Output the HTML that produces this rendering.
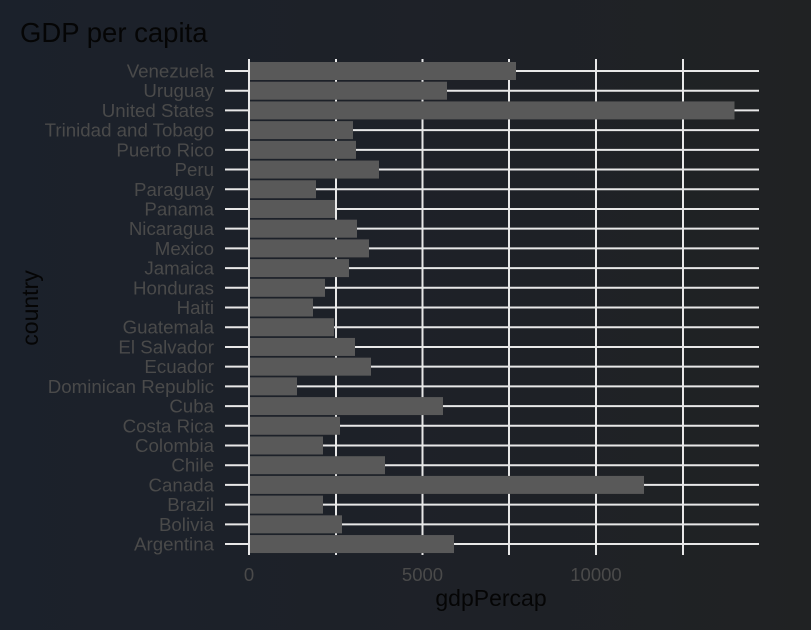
<!DOCTYPE html>
<html><head><meta charset="utf-8"><style>
html,body{margin:0;padding:0}
body{width:811px;height:625px;background:linear-gradient(90deg,#1b212b,#1e2127 60%,#202223);overflow:hidden}
</style></head><body>
<svg width="811" height="625" xmlns="http://www.w3.org/2000/svg" font-family="Liberation Sans, sans-serif">
<defs>
<g id="gl"><line x1="225" y1="0" x2="759" y2="0" stroke="#e8e8e8" stroke-width="2"/></g>
</defs>
<text x="20" y="42" font-size="27.5" fill="#050505">GDP per capita</text>
<g stroke="#e8e8e8" stroke-width="2">
<line x1="249" y1="59" x2="249" y2="555"/>
<line x1="336" y1="59" x2="336" y2="555"/>
<line x1="422.5" y1="59" x2="422.5" y2="555"/>
<line x1="509" y1="59" x2="509" y2="555"/>
<line x1="596" y1="59" x2="596" y2="555"/>
<line x1="683" y1="59" x2="683" y2="555"/>
</g>
<g font-size="18.7" fill="#4a4a4a" text-anchor="end">
<g transform="translate(0,71)"><use href="#gl"/><rect x="250" y="-9" width="266" height="18" fill="#595959"/><text x="214" y="6.5">Venezuela</text></g>
<g transform="translate(0,90.71)"><use href="#gl"/><rect x="250" y="-9" width="197" height="18" fill="#595959"/><text x="214" y="6.5">Uruguay</text></g>
<g transform="translate(0,110.42)"><use href="#gl"/><rect x="250" y="-9" width="484.5" height="18" fill="#595959"/><text x="214" y="6.5">United States</text></g>
<g transform="translate(0,130.13)"><use href="#gl"/><rect x="250" y="-9" width="103" height="18" fill="#595959"/><text x="214" y="6.5">Trinidad and Tobago</text></g>
<g transform="translate(0,149.84)"><use href="#gl"/><rect x="250" y="-9" width="106" height="18" fill="#595959"/><text x="214" y="6.5">Puerto Rico</text></g>
<g transform="translate(0,169.55)"><use href="#gl"/><rect x="250" y="-9" width="129" height="18" fill="#595959"/><text x="214" y="6.5">Peru</text></g>
<g transform="translate(0,189.26)"><use href="#gl"/><rect x="250" y="-9" width="66" height="18" fill="#595959"/><text x="214" y="6.5">Paraguay</text></g>
<g transform="translate(0,208.97)"><use href="#gl"/><rect x="250" y="-9" width="85" height="18" fill="#595959"/><text x="214" y="6.5">Panama</text></g>
<g transform="translate(0,228.68)"><use href="#gl"/><rect x="250" y="-9" width="107" height="18" fill="#595959"/><text x="214" y="6.5">Nicaragua</text></g>
<g transform="translate(0,248.39)"><use href="#gl"/><rect x="250" y="-9" width="119" height="18" fill="#595959"/><text x="214" y="6.5">Mexico</text></g>
<g transform="translate(0,268.1)"><use href="#gl"/><rect x="250" y="-9" width="99" height="18" fill="#595959"/><text x="214" y="6.5">Jamaica</text></g>
<g transform="translate(0,287.81)"><use href="#gl"/><rect x="250" y="-9" width="75" height="18" fill="#595959"/><text x="214" y="6.5">Honduras</text></g>
<g transform="translate(0,307.52)"><use href="#gl"/><rect x="250" y="-9" width="63" height="18" fill="#595959"/><text x="214" y="6.5">Haiti</text></g>
<g transform="translate(0,327.23)"><use href="#gl"/><rect x="250" y="-9" width="84" height="18" fill="#595959"/><text x="214" y="6.5">Guatemala</text></g>
<g transform="translate(0,346.94)"><use href="#gl"/><rect x="250" y="-9" width="105" height="18" fill="#595959"/><text x="214" y="6.5">El Salvador</text></g>
<g transform="translate(0,366.65)"><use href="#gl"/><rect x="250" y="-9" width="121" height="18" fill="#595959"/><text x="214" y="6.5">Ecuador</text></g>
<g transform="translate(0,386.36)"><use href="#gl"/><rect x="250" y="-9" width="47" height="18" fill="#595959"/><text x="214" y="6.5">Dominican Republic</text></g>
<g transform="translate(0,406.07)"><use href="#gl"/><rect x="250" y="-9" width="193" height="18" fill="#595959"/><text x="214" y="6.5">Cuba</text></g>
<g transform="translate(0,425.78)"><use href="#gl"/><rect x="250" y="-9" width="90" height="18" fill="#595959"/><text x="214" y="6.5">Costa Rica</text></g>
<g transform="translate(0,445.49)"><use href="#gl"/><rect x="250" y="-9" width="73" height="18" fill="#595959"/><text x="214" y="6.5">Colombia</text></g>
<g transform="translate(0,465.2)"><use href="#gl"/><rect x="250" y="-9" width="135" height="18" fill="#595959"/><text x="214" y="6.5">Chile</text></g>
<g transform="translate(0,484.91)"><use href="#gl"/><rect x="250" y="-9" width="394" height="18" fill="#595959"/><text x="214" y="6.5">Canada</text></g>
<g transform="translate(0,504.62)"><use href="#gl"/><rect x="250" y="-9" width="73" height="18" fill="#595959"/><text x="214" y="6.5">Brazil</text></g>
<g transform="translate(0,524.33)"><use href="#gl"/><rect x="250" y="-9" width="92" height="18" fill="#595959"/><text x="214" y="6.5">Bolivia</text></g>
<g transform="translate(0,544.04)"><use href="#gl"/><rect x="250" y="-9" width="204" height="18" fill="#595959"/><text x="214" y="6.5">Argentina</text></g>
</g>
<g font-size="18.5" fill="#4a4a4a" text-anchor="middle">
<text x="249" y="581">0</text>
<text x="422.5" y="581">5000</text>
<text x="596" y="581">10000</text>
</g>
<text x="491" y="606" font-size="23" fill="#050505" text-anchor="middle">gdpPercap</text>
<text transform="translate(38,308) rotate(-90)" font-size="23" fill="#050505" text-anchor="middle">country</text>
</svg>
</body></html>
